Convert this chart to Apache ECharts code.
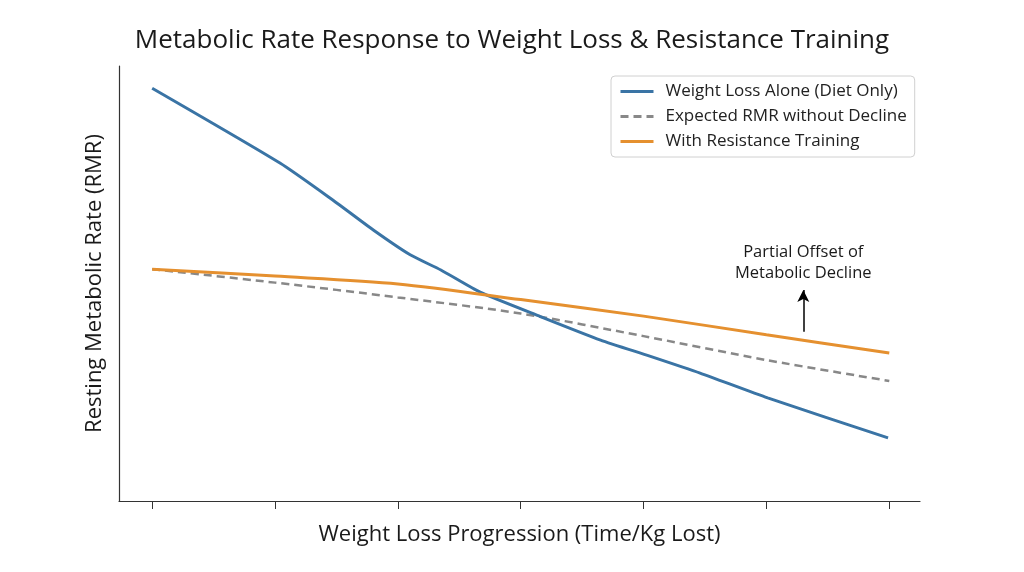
<!DOCTYPE html>
<html>
<head>
<meta charset="utf-8">
<script src="https://cdn.jsdelivr.net/npm/echarts@6/dist/echarts.min.js"></script>
<style>html,body{margin:0;padding:0;background:#fff}#c{width:1024px;height:572px}</style>
</head>
<body>
<div id="c"></div>
<script>
// Progression positions (x) and RMR values (relative units)
var dietX = [0, 1.04, 1.47, 1.80, 2.10, 2.35, 2.67, 3.16, 3.65, 4.05, 4.46, 5.01, 5.99];
var dietY = [94.9, 77.7, 69.2, 62.3, 56.6, 53.1, 48.0, 42.4, 37.0, 33.3, 29.4, 23.7, 14.5];
var expectedX = [0, 1, 2, 3, 4, 5, 6];
var expectedY = [53.3, 50.2, 46.8, 43.1, 37.9, 32.4, 27.6];
var trainingX = [0, 1, 2, 3, 4, 5, 6];
var trainingY = [53.3, 51.7, 49.9, 46.3, 42.5, 38.2, 34.0];
var tickValues = [0, 1, 2, 3, 4, 5, 6];
var arrowX = 5.30, arrowFrom = 38.9, arrowTo = 48.5;

function pairs(xs, ys) { return xs.map(function (x, i) { return [x, ys[i]]; }); }

var FONT = 'Open Sans';
var chart = echarts.init(document.getElementById('c'));
chart.setOption({
  backgroundColor: '#fff',
  animation: false,
  title: {
    text: 'Metabolic Rate Response to Weight Loss & Resistance Training',
    left: 'center', top: 23,
    textStyle: { fontFamily: FONT, fontSize: 26, fontWeight: 'normal', color: '#1a1a1a' }
  },
  legend: {
    orient: 'vertical', left: 611, top: 76,
    itemWidth: 33, itemHeight: 10, itemGap: 8,
    padding: [7, 8, 7, 8],
    borderColor: '#d0d0d0', borderWidth: 1, borderRadius: 4,
    itemStyle: { opacity: 0 },
    lineStyle: { width: 3 },
    textStyle: { fontFamily: FONT, fontSize: 17, color: '#222', padding: [0, 0, 0, 7] },
    data: ['Weight Loss Alone (Diet Only)', 'Expected RMR without Decline', 'With Resistance Training']
  },
  grid: { left: 119, right: 104, top: 66, bottom: 71 },
  xAxis: {
    type: 'value', min: -0.27, max: 6.25,
    name: 'Weight Loss Progression (Time/Kg Lost)',
    nameLocation: 'middle', nameGap: 23,
    nameTextStyle: { fontFamily: FONT, fontSize: 22, color: '#1a1a1a' },
    axisLine: { show: true, onZero: false, lineStyle: { color: '#333', width: 1.2 } },
    axisTick: { show: true, length: 8, customValues: tickValues, lineStyle: { color: '#333' } },
    axisLabel: { show: false },
    splitLine: { show: false }
  },
  yAxis: {
    type: 'value', min: 0, max: 100,
    name: 'Resting Metabolic Rate (RMR)',
    nameLocation: 'middle', nameGap: 13,
    nameTextStyle: { fontFamily: FONT, fontSize: 22, color: '#1a1a1a' },
    axisLine: { show: true, onZero: false, lineStyle: { color: '#333', width: 1.2 } },
    axisTick: { show: false },
    axisLabel: { show: false },
    splitLine: { show: false }
  },
  series: [
    {
      name: 'Weight Loss Alone (Diet Only)', type: 'line', showSymbol: false, symbol: 'none',
      smooth: 0.2,
      lineStyle: { color: '#3a74a5', width: 3 }, itemStyle: { color: '#3a74a5' },
      data: pairs(dietX, dietY), z: 3
    },
    {
      name: 'Expected RMR without Decline', type: 'line', showSymbol: false, symbol: 'none',
      smooth: 0.3,
      lineStyle: { color: '#888', width: 2.5, type: [8, 5] }, itemStyle: { color: '#888' },
      data: pairs(expectedX, expectedY), z: 2
    },
    {
      name: 'With Resistance Training', type: 'line', showSymbol: false, symbol: 'none',
      smooth: 0.3,
      lineStyle: { color: '#e5902f', width: 3 }, itemStyle: { color: '#e5902f' },
      data: pairs(trainingX, trainingY), z: 4,
      markLine: {
        silent: true, symbol: ['none', 'arrow'], symbolSize: [9, 12],
        lineStyle: { color: '#000', width: 1.5, type: 'solid' },
        label: {
          show: true, position: 'end', distance: 6,
          formatter: 'Partial Offset of\nMetabolic Decline',
          fontFamily: FONT, fontSize: 16.5, color: '#1a1a1a', lineHeight: 21
        },
        data: [[{ coord: [arrowX, arrowFrom] }, { coord: [arrowX, arrowTo] }]]
      }
    }
  ]
});
</script>
</body>
</html>
